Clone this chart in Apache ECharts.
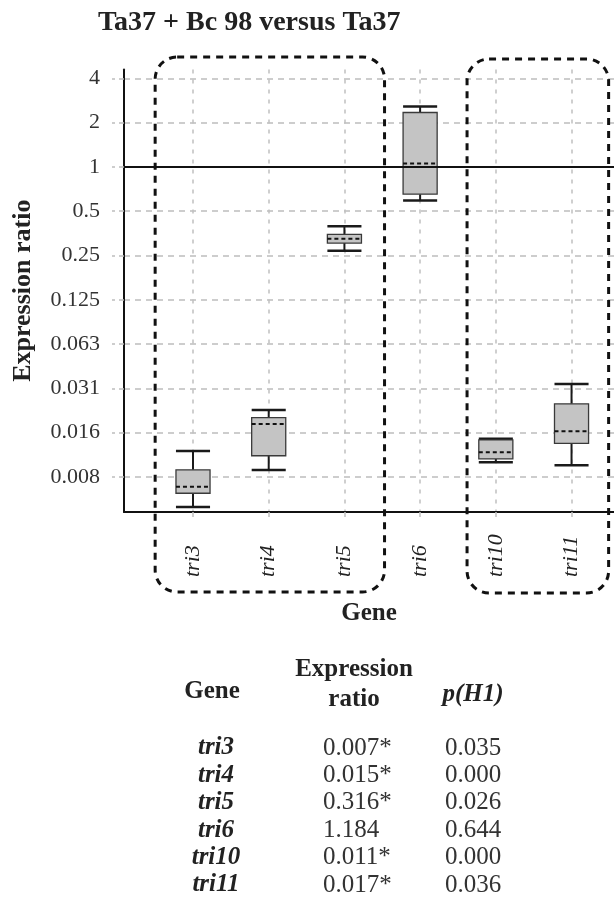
<!DOCTYPE html>
<html>
<head>
<meta charset="utf-8">
<script src="https://cdn.jsdelivr.net/npm/echarts@6/dist/echarts.min.js"></script>
<style>
  html, body { margin: 0; padding: 0; background: #fff; }
  #chart { width: 614px; height: 904px; }
</style>
</head>
<body>
<div id="chart"></div>
<script>
  // values (expression ratio, log2 axis)
  var genes = ['tri3', 'tri4', 'tri5', 'tri6', 'tri10', 'tri11'];
  var whiskerLow = [0.00488, 0.00870, 0.2692, 0.591, 0.00984, 0.00938];
  var boxLow = [0.00606, 0.01089, 0.3035, 0.652, 0.01036, 0.01323];
  var medians = [0.00672, 0.01790, 0.3246, 1.054, 0.01150, 0.01598];
  var boxHigh = [0.00874, 0.01977, 0.3477, 2.341, 0.01395, 0.02455];
  var whiskerHigh = [0.01173, 0.02225, 0.3957, 2.571, 0.01424, 0.03348];

  // y tick labels for exponents -7 .. 2
  var yTickLabels = ['0.008', '0.016', '0.031', '0.063', '0.125', '0.25', '0.5', '1', '2', '4'];

  // table under the chart
  var tableRatio = ['0.007*', '0.015*', '0.316*', '1.184', '0.011*', '0.017*'];
  var tablePH1 = ['0.035', '0.000', '0.026', '0.644', '0.000', '0.036'];

  var FONT = '"Liberation Serif", "DejaVu Serif", serif';

  var boxData = genes.map(function (g, i) {
    return [i + 1, whiskerLow[i], boxLow[i], medians[i], boxHigh[i], whiskerHigh[i]];
  });

  function renderBox(params, api) {
    var x = api.value(0);
    var wl = api.coord([x, api.value(1)]);
    var bl = api.coord([x, api.value(2)]);
    var md = api.coord([x, api.value(3)]);
    var bh = api.coord([x, api.value(4)]);
    var wh = api.coord([x, api.value(5)]);
    var cx = wl[0];
    var half = api.coord([x + 0.225, api.value(3)])[0] - cx;
    var whisker = { stroke: '#1a1a1a', lineWidth: 2 };
    return {
      type: 'group',
      children: [
        { type: 'line', shape: { x1: cx, y1: wl[1], x2: cx, y2: bl[1] }, style: whisker },
        { type: 'line', shape: { x1: cx, y1: bh[1], x2: cx, y2: wh[1] }, style: whisker },
        { type: 'line', shape: { x1: cx - half, y1: wl[1], x2: cx + half, y2: wl[1] }, style: { stroke: '#1a1a1a', lineWidth: 2.5 } },
        { type: 'line', shape: { x1: cx - half, y1: wh[1], x2: cx + half, y2: wh[1] }, style: { stroke: '#1a1a1a', lineWidth: 2.5 } },
        {
          type: 'rect',
          shape: { x: cx - half, y: bh[1], width: half * 2, height: bl[1] - bh[1] },
          style: { fill: '#c4c4c4', stroke: '#3a3a3a', lineWidth: 1.3 }
        },
        {
          type: 'line',
          shape: { x1: cx - half, y1: md[1], x2: cx + half, y2: md[1] },
          style: { stroke: '#111', lineWidth: 2, lineDash: [4, 3] }
        }
      ]
    };
  }

  var chart = echarts.init(document.getElementById('chart'));

  var option = {
    animation: false,
    backgroundColor: '#fff',
    title: {
      text: 'Ta37 + Bc 98 versus Ta37',
      left: 93,
      top: 4,
      textStyle: { fontFamily: FONT, fontSize: 28, fontWeight: 'bold', color: '#222' }
    },
    // log span kept just under 10 doublings so the scale ticks every power of 2
    grid: { left: 124, right: 0, top: 69.4, bottom: 392 },
    xAxis: {
      type: 'value',
      min: 0.0885,
      max: 6.561,
      splitNumber: 6,
      name: 'Gene',
      nameLocation: 'middle',
      nameGap: 89,
      nameTextStyle: { fontFamily: FONT, fontSize: 25, fontWeight: 'bold', color: '#222' },
      axisLine: { onZero: false, lineStyle: { color: '#111', width: 2 } },
      axisTick: { length: 5, lineStyle: { color: '#c0c0c0', width: 1.5 } },
      axisLabel: {
        rotate: 90,
        align: 'left',
        verticalAlign: 'middle',
        margin: 65,
        showMinLabel: false,
        showMaxLabel: false,
        fontFamily: FONT,
        fontSize: 22,
        fontStyle: 'italic',
        color: '#222',
        formatter: function (v) {
          return Math.abs(v - Math.round(v)) < 1e-6 ? (genes[Math.round(v) - 1] || '') : '';
        }
      },
      splitLine: {
        show: true,
        showMinLine: false,
        showMaxLine: false,
        lineStyle: { color: '#c0c0c0', width: 1.5, type: [4, 6] }
      }
    },
    yAxis: {
      type: 'log',
      logBase: 2,
      min: Math.pow(2, -7.79),
      max: Math.pow(2, 2.2),
      splitNumber: 10,
      name: 'Expression ratio',
      nameLocation: 'middle',
      nameGap: 88,
      nameTextStyle: { fontFamily: FONT, fontSize: 26, fontWeight: 'bold', color: '#222' },
      axisLine: { show: true, lineStyle: { color: '#111', width: 2 } },
      axisTick: { show: true, length: 12, lineStyle: { color: '#bdbdbd', width: 1.5, type: [5, 4] } },
      axisLabel: {
        margin: 24,
        showMinLabel: false,
        showMaxLabel: false,
        fontFamily: FONT,
        fontSize: 22,
        color: '#333',
        formatter: function (v) {
          var k = Math.log2(v);
          if (Math.abs(k - Math.round(k)) > 1e-6) return '';
          return yTickLabels[Math.round(k) + 7] || '';
        }
      },
      splitLine: {
        show: true,
        showMinLine: false,
        showMaxLine: false,
        lineStyle: { color: '#bdbdbd', width: 1.5, type: [6, 5] }
      }
    },
    series: [
      {
        name: 'ref',
        type: 'line',
        data: [],
        z: 1,
        markLine: {
          silent: true,
          symbol: 'none',
          label: { show: false },
          lineStyle: { color: '#111', width: 2, type: 'solid' },
          data: [{ yAxis: 1 }]
        }
      },
      {
        name: 'boxes',
        type: 'custom',
        z: 3,
        renderItem: renderBox,
        encode: { x: 0, y: [1, 2, 3, 4, 5] },
        data: boxData
      }
    ]
  };

  chart.setOption(option);

  // dashed groups and the table, placed after the axes exist
  function groupRect(from, to, top, bottom) {
    var x1 = chart.convertToPixel({ xAxisIndex: 0 }, from);
    var x2 = chart.convertToPixel({ xAxisIndex: 0 }, to);
    return {
      type: 'rect',
      z: 10,
      shape: { x: x1, y: top, width: x2 - x1, height: bottom - top, r: 22 },
      style: { fill: 'none', stroke: '#111', lineWidth: 3, lineDash: [7, 6] }
    };
  }

  var graphics = [
    groupRect(1 - 0.5, 3 + 0.53, 57, 592),
    groupRect(5 - 0.38, 6 + 0.49, 59, 593)
  ];

  var headStyle = { fontFamily: FONT, fontSize: 25, fontWeight: 'bold', fill: '#222' };
  graphics.push({ type: 'text', x: 212, y: 692, style: Object.assign({ text: 'Gene', align: 'center', verticalAlign: 'middle' }, headStyle) });
  graphics.push({ type: 'text', x: 354, y: 670, style: Object.assign({ text: 'Expression', align: 'center', verticalAlign: 'middle' }, headStyle) });
  graphics.push({ type: 'text', x: 354, y: 700, style: Object.assign({ text: 'ratio', align: 'center', verticalAlign: 'middle' }, headStyle) });
  graphics.push({ type: 'text', x: 473, y: 695, style: Object.assign({ text: 'p(H1)', align: 'center', verticalAlign: 'middle', fontStyle: 'italic' }, headStyle) });

  genes.forEach(function (g, i) {
    var y = 748 + i * 27.4;
    graphics.push({
      type: 'text', x: 216, y: y,
      style: { text: g, align: 'center', verticalAlign: 'middle', fontFamily: FONT, fontSize: 25, fontWeight: 'bold', fontStyle: 'italic', fill: '#222' }
    });
    graphics.push({
      type: 'text', x: 323, y: y,
      style: { text: tableRatio[i], align: 'left', verticalAlign: 'middle', fontFamily: FONT, fontSize: 25, fill: '#333' }
    });
    graphics.push({
      type: 'text', x: 445, y: y,
      style: { text: tablePH1[i], align: 'left', verticalAlign: 'middle', fontFamily: FONT, fontSize: 25, fill: '#333' }
    });
  });

  chart.setOption({ graphic: graphics });
</script>
</body>
</html>
